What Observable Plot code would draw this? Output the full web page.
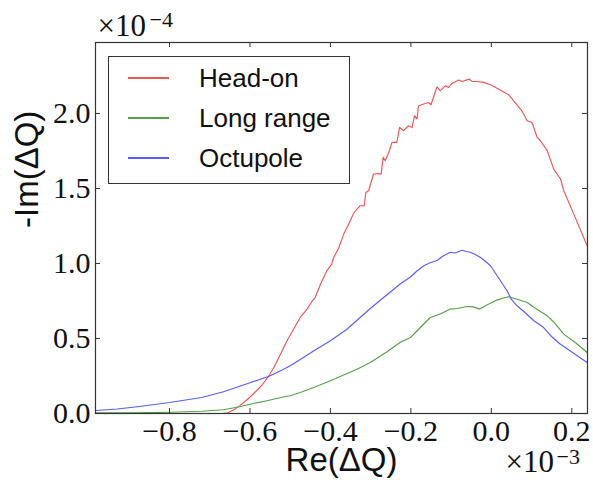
<!DOCTYPE html>
<html>
<head>
<meta charset="utf-8">
<script src="https://cdn.jsdelivr.net/npm/d3@7"></script>
<script src="https://cdn.jsdelivr.net/npm/@observablehq/plot@0.6"></script>
<style>
  html, body { margin: 0; padding: 0; background: #fff; }
  #wrap { position: relative; width: 593px; height: 480px; }
  #legend { position: absolute; left: 108px; top: 56px; width: 242px; height: 128px;
            border: 1px solid #333; background: #fff; box-sizing: border-box; }
  .lg-line { position: absolute; left: 19px; width: 41px; height: 0; border-top: 2px solid; }
  .lg-text { position: absolute; left: 90px; font-family: "Liberation Sans", Arial, sans-serif;
             font-size: 26px; line-height: 26px; color: #111; white-space: nowrap; }
</style>
</head>
<body>
<div id="wrap"></div>
<script>
// ---- data (x in units of 1e-3, y in units of 1e-4) ----
const seriesNames = ["Head-on", "Long range", "Octupole"];
const seriesColors = ["#ee5555", "#55a045", "#5b5bff"];

const headOnX = [-0.984, -0.90, -0.80, -0.72, -0.67, -0.655, -0.64, -0.626, -0.61, -0.59, -0.57, -0.554, -0.54, -0.525, -0.508, -0.49, -0.475, -0.458, -0.445, -0.438, -0.425, -0.409, -0.397, -0.392, -0.38, -0.367, -0.355, -0.345, -0.338, -0.326, -0.316, -0.312, -0.305, -0.293, -0.283, -0.274, -0.269, -0.264, -0.255, -0.247, -0.235, -0.228, -0.218, -0.206, -0.197, -0.191, -0.185, -0.181, -0.168, -0.156, -0.15, -0.135, -0.127, -0.114, -0.106, -0.098, -0.081, -0.073, -0.055, -0.048, -0.036, -0.019, -0.002, 0.022, 0.043, 0.055, 0.076, 0.089, 0.101, 0.114, 0.122, 0.139, 0.155, 0.172, 0.18, 0.205, 0.238];
const headOnY = [0, 0, 0, 0, 0, 0.005, 0.025, 0.051, 0.085, 0.135, 0.19, 0.247, 0.31, 0.39, 0.485, 0.57, 0.64, 0.696, 0.75, 0.773, 0.86, 0.951, 0.996, 1.04, 1.10, 1.196, 1.26, 1.32, 1.351, 1.385, 1.385, 1.473, 1.485, 1.596, 1.60, 1.596, 1.707, 1.685, 1.74, 1.807, 1.807, 1.907, 1.885, 1.918, 1.907, 1.985, 1.963, 2.051, 2.063, 2.073, 2.058, 2.178, 2.151, 2.185, 2.173, 2.2, 2.223, 2.213, 2.229, 2.213, 2.213, 2.207, 2.191, 2.156, 2.125, 2.085, 2.018, 1.951, 1.94, 1.84, 1.818, 1.751, 1.629, 1.563, 1.485, 1.329, 1.118];

const longRangeX = [-0.984, -0.90, -0.80, -0.72, -0.666, -0.626, -0.60, -0.558, -0.52, -0.50, -0.475, -0.44, -0.40, -0.36, -0.33, -0.301, -0.26, -0.226, -0.201, -0.185, -0.152, -0.127, -0.102, -0.085, -0.06, -0.045, -0.029, -0.01, 0.014, 0.03, 0.043, 0.06, 0.089, 0.11, 0.139, 0.155, 0.18, 0.21, 0.238];
const longRangeY = [0.004, 0.005, 0.008, 0.015, 0.025, 0.045, 0.062, 0.085, 0.108, 0.118, 0.14, 0.175, 0.218, 0.265, 0.30, 0.34, 0.41, 0.475, 0.507, 0.55, 0.64, 0.663, 0.696, 0.70, 0.713, 0.711, 0.696, 0.725, 0.756, 0.77, 0.778, 0.765, 0.74, 0.70, 0.651, 0.61, 0.529, 0.47, 0.407];

const octupoleX = [-0.984, -0.93, -0.88, -0.80, -0.72, -0.666, -0.64, -0.60, -0.554, -0.52, -0.50, -0.475, -0.44, -0.40, -0.36, -0.326, -0.301, -0.276, -0.251, -0.226, -0.201, -0.185, -0.168, -0.152, -0.135, -0.12, -0.102, -0.09, -0.073, -0.062, -0.052, -0.04, -0.027, -0.015, -0.002, 0.02, 0.039, 0.05, 0.064, 0.085, 0.105, 0.13, 0.147, 0.17, 0.20, 0.238];
const octupoleY = [0.02, 0.03, 0.045, 0.073, 0.107, 0.145, 0.168, 0.205, 0.247, 0.29, 0.318, 0.36, 0.42, 0.485, 0.56, 0.64, 0.70, 0.755, 0.81, 0.865, 0.91, 0.95, 0.985, 1.005, 1.02, 1.05, 1.075, 1.07, 1.088, 1.08, 1.075, 1.06, 1.04, 1.015, 0.985, 0.895, 0.818, 0.76, 0.718, 0.67, 0.62, 0.573, 0.52, 0.465, 0.41, 0.34];

const xTicks = [-0.8, -0.6, -0.4, -0.2, 0.0, 0.2];
const yTicks = [0.0, 0.5, 1.0, 1.5, 2.0];
const xLabel = "Re(ΔQ)";
const yLabel = "-Im(ΔQ)";
const xOffsetBase = "×10", xOffsetExp = "−3";
const yOffsetBase = "×10", yOffsetExp = "−4";

// ---- build table ----
const seriesXs = [headOnX, longRangeX, octupoleX];
const seriesYs = [headOnY, longRangeY, octupoleY];
const rows = seriesNames.flatMap((name, i) =>
  seriesXs[i].map((x, j) => ({series: name, x, y: seriesYs[i][j]})));

const fmt = d => (Math.abs(d) < 1e-9 ? "0.0" : d.toFixed(1).replace("-", "−"));

const serif = "'Liberation Serif', 'DejaVu Serif', serif";
const sans = "'Liberation Sans', Arial, sans-serif";
const plotH = 480 - 42 - 67;
const plotW = 593 - 95 - 6;

const chart = Plot.plot({
  width: 593,
  height: 480,
  marginLeft: 95,
  marginRight: 6,
  marginTop: 42,
  marginBottom: 67,
  style: {background: "#fff", color: "#000", fontFamily: serif, fontSize: "30px", overflow: "visible"},
  x: {domain: [-0.984, 0.239], label: null},
  y: {domain: [0, 2.473], label: null},
  color: {domain: seriesNames, range: seriesColors},
  marks: [
    Plot.line(rows, {x: "x", y: "y", z: "series", stroke: "series", strokeWidth: 1.15, clip: true}),
    Plot.axisX({ticks: xTicks, tickFormat: fmt, tickSize: 0, tickPadding: 6, label: null, fontSize: 30, fontFamily: serif, fill: "#111"}),
    Plot.axisY({ticks: yTicks, tickFormat: fmt, tickSize: 0, tickPadding: 5, label: null, fontSize: 30, fontFamily: serif, fill: "#111"}),
    // inward ticks on all four sides
    Plot.tickX(xTicks, {x: d => d, insetTop: plotH - 5, stroke: "#333"}),
    Plot.tickX(xTicks, {x: d => d, insetBottom: plotH - 5, stroke: "#333"}),
    Plot.tickY(yTicks, {y: d => d, insetRight: plotW - 5, stroke: "#333"}),
    Plot.tickY(yTicks, {y: d => d, insetLeft: plotW - 5, stroke: "#333"}),
    Plot.frame({stroke: "#333", strokeWidth: 1.2}),
    // axis labels
    Plot.text([xLabel], {text: d => d, frameAnchor: "bottom", lineAnchor: "bottom", dy: 57, fontSize: 33, fontFamily: sans, fill: "#111"}),
    Plot.text([yLabel], {text: d => d, frameAnchor: "left", rotate: -90, dx: -68, fontSize: 33, fontFamily: sans, fill: "#111"}),
    // offset (scale) texts
    Plot.text([yOffsetBase], {text: d => d, frameAnchor: "top-left", textAnchor: "start", lineAnchor: "bottom", dx: 2, dy: -7, fontSize: 31, fontFamily: serif, fill: "#111"}),
    Plot.text([yOffsetExp], {text: d => d, frameAnchor: "top-left", textAnchor: "start", lineAnchor: "bottom", dx: 54, dy: -16, fontSize: 22, fontFamily: serif, fill: "#111"}),
    Plot.text([xOffsetBase], {text: d => d, frameAnchor: "bottom-right", textAnchor: "start", lineAnchor: "bottom", dx: -82, dy: 58.7, fontSize: 31, fontFamily: serif, fill: "#111"}),
    Plot.text([xOffsetExp], {text: d => d, frameAnchor: "bottom-right", textAnchor: "start", lineAnchor: "bottom", dx: -31, dy: 50, fontSize: 22, fontFamily: serif, fill: "#111"})
  ]
});

const wrap = document.getElementById("wrap");
wrap.appendChild(chart);

// legend (HTML overlay)
const legend = document.createElement("div");
legend.id = "legend";
const lineTops = [20, 60, 100];
seriesNames.forEach((name, i) => {
  const ln = document.createElement("div");
  ln.className = "lg-line";
  ln.style.top = lineTops[i] + "px";
  ln.style.borderTopColor = seriesColors[i];
  legend.appendChild(ln);
  const tx = document.createElement("div");
  tx.className = "lg-text";
  tx.style.top = (lineTops[i] + 10 - 22) + "px";
  tx.textContent = name;
  legend.appendChild(tx);
});
wrap.appendChild(legend);
</script>
</body>
</html>
